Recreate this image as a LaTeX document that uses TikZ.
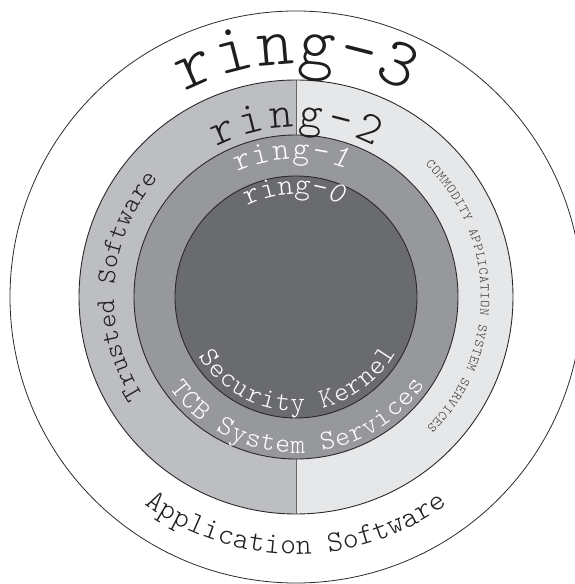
\documentclass[tikz,border=0pt]{standalone}
\usepackage{fontspec}
\newfontfamily\monolight{Latin Modern Mono Light}
\definecolor{ringLeft}{HTML}{BDBEC1}
\definecolor{ringRight}{HTML}{E6E7E9}
\definecolor{ringOne}{HTML}{97989C}
\definecolor{ringZero}{HTML}{6A6B6F}
\definecolor{lineDark}{HTML}{2A2A2A}
\definecolor{textDark}{HTML}{1E1E1E}
% #1 name prefix, #2 radius, #3 centre angle, #4 step, #5 count, #6 font/colour style, #7 characters
\newcommand\arcTop[7]{%
  \foreach \ch [count=\i] in {#7} {%
    \pgfmathsetmacro\ang{#3 - (\i - 1 - (#5-1)/2)*#4}%
    \node[arcchar, #6, rotate=\ang-90] (#1-\i) at ([shift={(\ang:#2pt)}]C) {\ch};
  }}
\newcommand\arcBot[7]{%
  \foreach \ch [count=\i] in {#7} {%
    \pgfmathsetmacro\ang{#3 + (\i - 1 - (#5-1)/2)*#4}%
    \node[arcchar, #6, rotate=\ang+90] (#1-\i) at ([shift={(\ang:#2pt)}]C) {\ch};
  }}
\begin{document}
\begin{tikzpicture}[x=1pt,y=1pt,
  arcchar/.style={anchor=base, inner sep=0pt, outer sep=0pt},
  ringline/.style={draw=lineDark, line width=0.9pt},
  fs/.style={font=\monolight\fontsize{#1}{#1}\selectfont}]
\useasboundingbox (0,0) rectangle (575,584);
\coordinate (C) at (296,287);
% outer ring-3
\draw[lineDark, line width=0.8pt] (C) circle[radius=286pt];
% ring-2 halves
\fill[ringLeft] ([shift={(90:217pt)}]C) arc[start angle=90, end angle=270, radius=217pt] -- cycle;
\fill[ringRight] ([shift={(-90:217pt)}]C) arc[start angle=-90, end angle=90, radius=217pt] -- cycle;
\coordinate (dtop) at ([shift={(90:217pt)}]C);
\coordinate (dbot) at ([shift={(-90:217pt)}]C);
\draw[black!60, line width=1pt] (dtop) -- (dbot);
\draw[ringline] (C) circle[radius=217pt];
% ring-1
\filldraw[ringline, fill=ringOne] (C) circle[radius=162pt];
% ring-0
\filldraw[ringline, fill=ringZero] (C) circle[radius=121pt];
% labels
\arcTop{rthree}{233}{90}{9.6}{6}{fs=70, textDark}{r,i,n,g,-,3}
\arcTop{rtwo}{170}{90}{9.5}{6}{fs=45, textDark}{r,i,n,g,-,2}
\arcTop{rone}{138}{92}{7.9}{6}{fs=32, white}{r,i,n,g,-,\itshape 1}
\arcTop{rzero}{103}{91}{9}{6}{fs=30, white}{r,i,n,g,-,\itshape 0}
\arcBot{sk}{114}{-89}{8}{15}{fs=28, white}{S,e,c,u,r,i,t,y,{},K,e,r,n,e,l}
\arcBot{tcb}{156}{-89.25}{5.8}{19}{fs=28, white}{T,C,B,{},S,y,s,t,e,m,{},S,e,r,v,i,c,e,s}
\arcTop{ts}{182}{176}{4.6}{16}{fs=27, textDark}{T,r,u,s,t,e,d,{},S,o,f,t,w,a,r,e}
\arcTop{cass}{185}{0.3}{2.46}{37}{fs=13.5, black!80}{C,O,M,M,O,D,I,T,Y,{},A,P,P,L,I,C,A,T,I,O,N,{},S,Y,S,T,E,M,{},S,E,R,V,I,C,E,S}
\arcBot{as}{257}{-90}{3.62}{20}{fs=30, textDark}{A,p,p,l,i,c,a,t,i,o,n,{},S,o,f,t,w,a,r,e}
\end{tikzpicture}
\end{document}
